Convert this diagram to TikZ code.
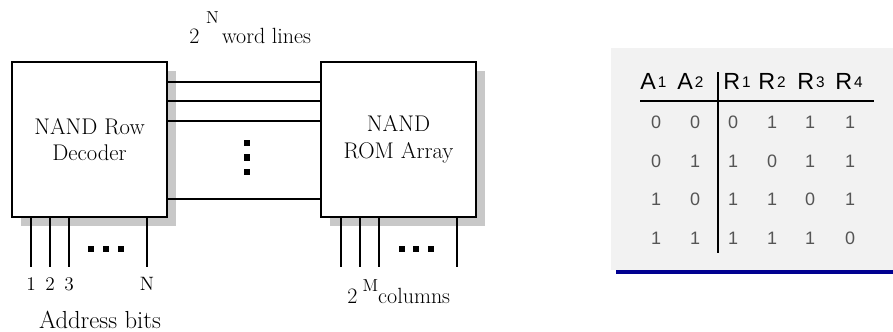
\documentclass[tikz,border=0pt]{standalone}
\usepackage{fontspec}
\newfontfamily\tabfont{Liberation Sans}
\usetikzlibrary{shadows}
\definecolor{shadowgray}{HTML}{C8C8C8}
\definecolor{tablebg}{HTML}{F2F2F2}
\definecolor{digitgray}{HTML}{555555}
\definecolor{rulenavy}{HTML}{000090}

\begin{document}
\begin{tikzpicture}[
  x=0.75pt, y=-0.75pt,
  block/.style={rectangle, draw, line width=1pt, fill=white,
                minimum width=116.25pt, minimum height=116.25pt,
                align=center, font=\fontsize{17}{20}\selectfont,
                drop shadow={shadow xshift=6.75pt, shadow yshift=-6.75pt,
                             fill=shadowgray, opacity=1}},
  wire/.style={line width=0.8pt},
  sq/.style={rectangle, fill, minimum size=5pt, inner sep=0pt},
  lbl/.style={anchor=base, inner sep=0pt, font=\fontsize{14.5}{14.5}\selectfont},
  sup/.style={anchor=base west, inner sep=0pt, font=\fontsize{16.5}{16.5}\selectfont},
  head/.style={anchor=base west, inner sep=0pt,
               font=\tabfont\fontsize{17.5}{18}\selectfont},
  cell/.style={anchor=base, inner sep=0pt, text=digitgray,
               font=\tabfont\fontsize{13.5}{14}\selectfont}
]
  \useasboundingbox (0,0) rectangle (893,332);

  % Blocks
  \node[block] (dec) at (89.5,139.5) {NAND Row\\Decoder};
  \node[block] (rom) at (398.5,139.5) {NAND\\ROM Array};

  % Word lines
  \foreach \y in {82,101,121,199}
    \draw[wire] (dec.east |- 0,\y) -- (rom.west |- 0,\y);
  \foreach \y [count=\i] in {143,157.5,172}
    \node[sq] (vd\i) at (247,\y) {};
  \node[sup] (wl) at (189,43)
    {2\hspace{5pt}\raisebox{15pt}{\fontsize{13}{13}\selectfont N}\hspace{2.5pt}word lines};

  % Address bits
  \foreach \x/\t [count=\i] in {31/1,50/2,69/3,147/N} {
    \coordinate (e\i) at (\x,267);
    \draw[wire] (dec.south -| e\i) -- (e\i);
    \node[lbl] (a\i) at (\x,290) {\t};
  }
  \foreach \x [count=\i] in {91,106,121}
    \node[sq] (ad\i) at (\x,249) {};
  \node[lbl, font=\fontsize{18.5}{19}\selectfont] (addr) at (100,328) {Address bits};

  % Columns
  \foreach \x [count=\i] in {341,360,379,457} {
    \coordinate (k\i) at (\x,267);
    \draw[wire] (rom.south -| k\i) -- (k\i);
  }
  \foreach \x [count=\i] in {402,416,431}
    \node[sq] (cd\i) at (\x,249) {};
  \node[sup] (cols) at (347,303)
    {2\hspace{4pt}\raisebox{9pt}{\fontsize{13}{13}\selectfont M}columns};

  % Truth table
  \fill[tablebg] (611,48) rectangle (893,270);
  \fill[rulenavy] (616,270) rectangle (893,274);
  \foreach \x/\t/\s [count=\i] in {640/A/1,677/A/2,723/R/1,758/R/2,797/R/3,835/R/4}
    \node[head] (h\i) at (\x,89) {\t\hspace{1.5pt}\raisebox{0.8pt}{\fontsize{11.5}{12}\selectfont\s}};
  \draw[line width=0.9pt] (640,101) -- (874,101);
  \draw[line width=0.9pt] (718,72) -- (718,253);
  \foreach \va/\vb/\vc/\vd/\ve/\vf [count=\r] in
      {0/0/0/1/1/1, 0/1/1/0/1/1, 1/0/1/1/0/1, 1/1/1/1/1/0} {
    \pgfmathsetmacro{\yb}{128.5+(\r-1)*38.7}
    \node[cell] (c\r-1) at (656,\yb) {\va};
    \node[cell] (c\r-2) at (695,\yb) {\vb};
    \node[cell] (c\r-3) at (733,\yb) {\vc};
    \node[cell] (c\r-4) at (772,\yb) {\vd};
    \node[cell] (c\r-5) at (810,\yb) {\ve};
    \node[cell] (c\r-6) at (850,\yb) {\vf};
  }
\end{tikzpicture}
\end{document}
